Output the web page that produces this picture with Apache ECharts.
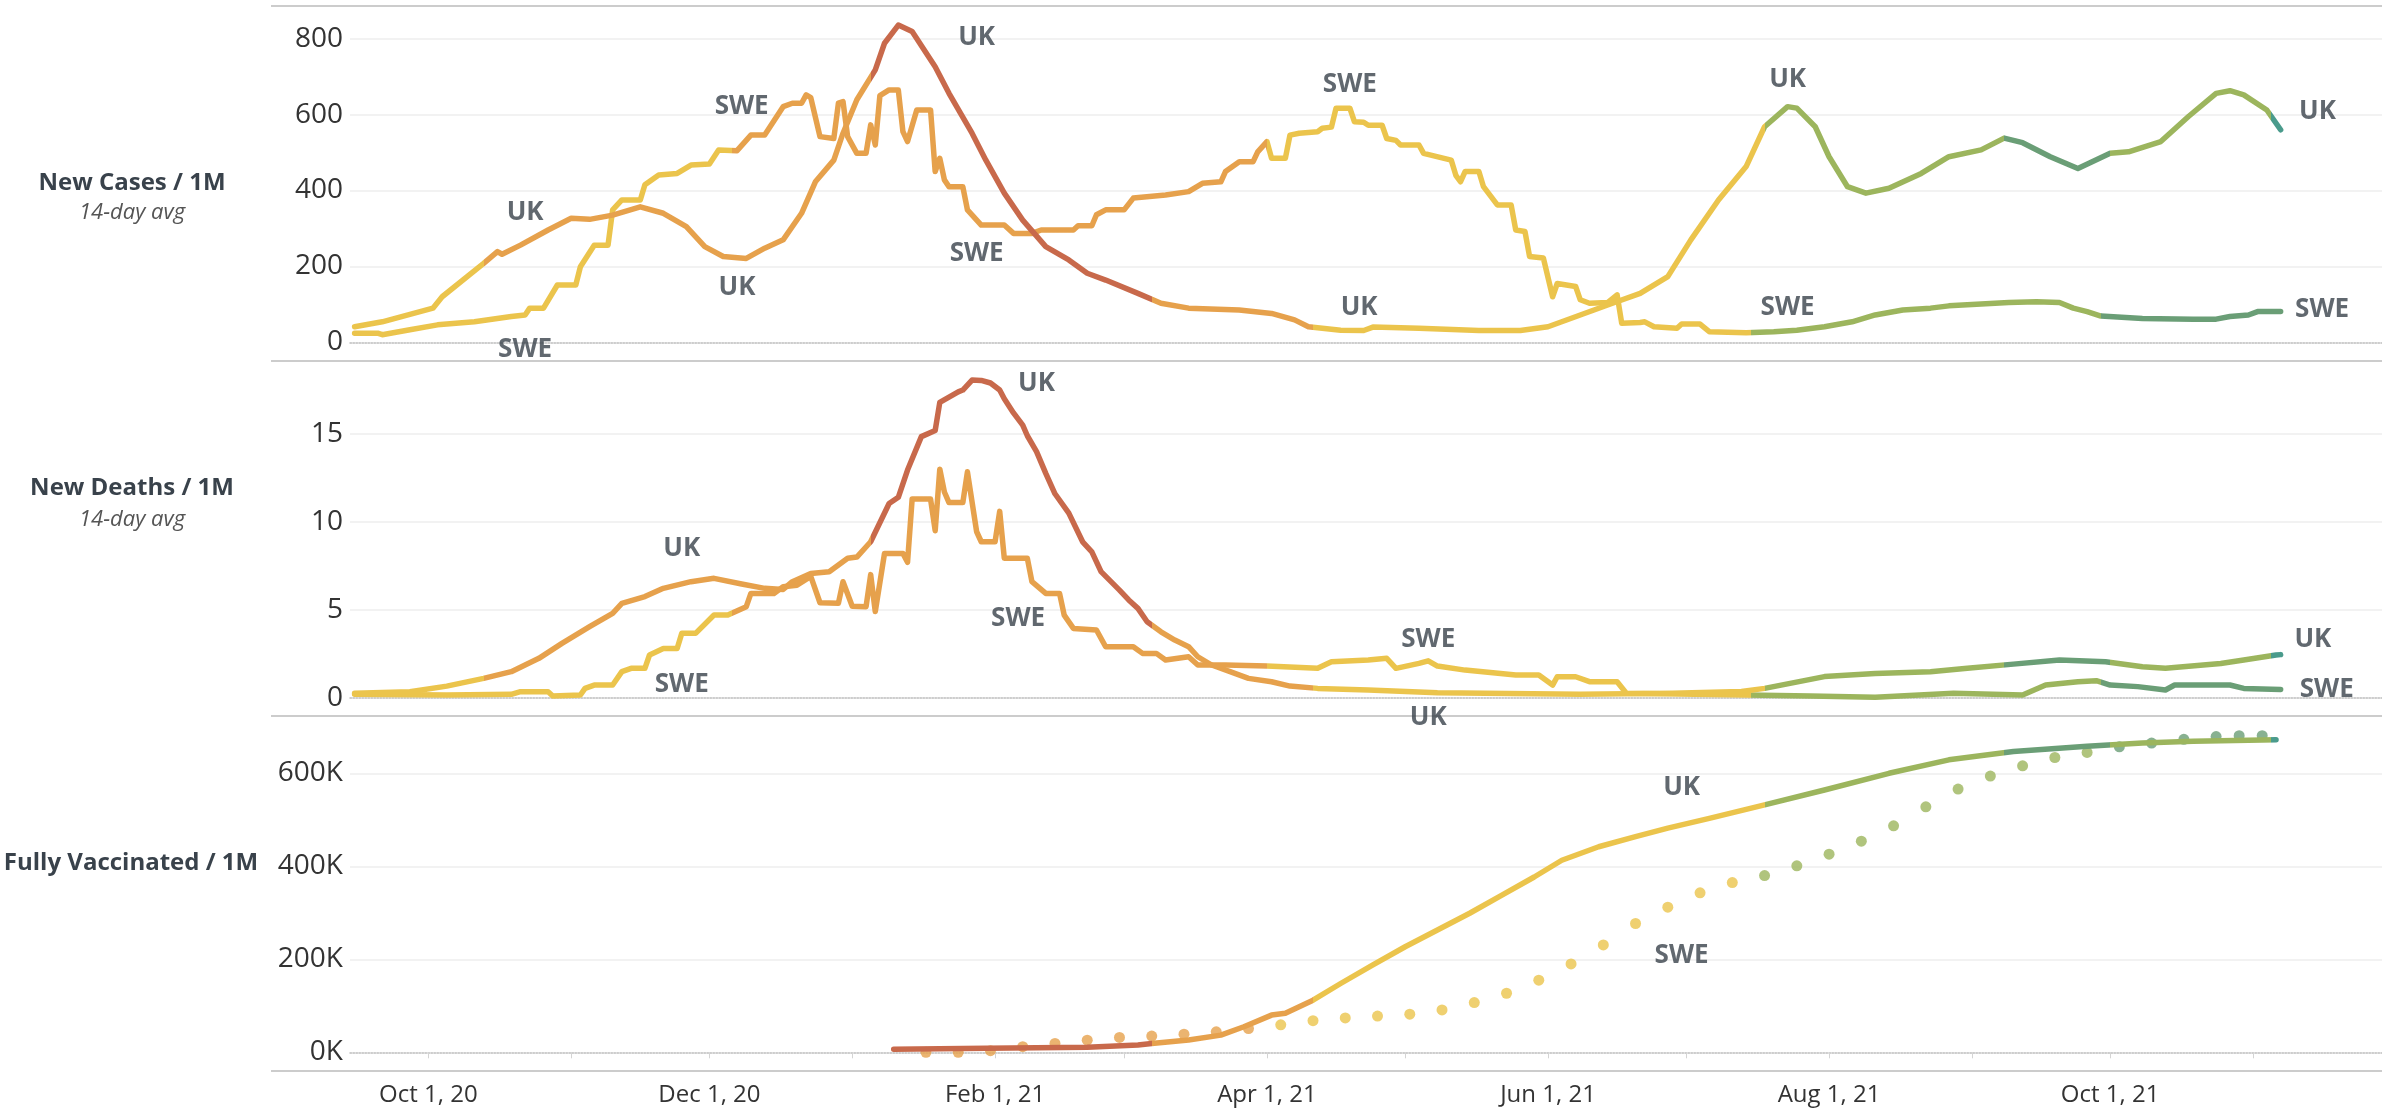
<!DOCTYPE html>
<html><head><meta charset="utf-8">
<script src="https://cdn.jsdelivr.net/npm/echarts@6/dist/echarts.min.js"></script>
<style>html,body{margin:0;padding:0;background:#fff}#c{width:2382px;height:1116px}</style>
</head><body><div id="c"></div>
<script>
// ---------- DATA ----------
const xMin = '2020-09-14';
const xMax = '2021-11-29';
const monthNames = ['Jan','Feb','Mar','Apr','May','Jun','Jul','Aug','Sep','Oct','Nov','Dec'];

const ukCases = [
['2020-09-15',41],['2020-09-21',54],['2020-10-02',90],['2020-10-04',120],['2020-10-13',208],['2020-10-16',239],['2020-10-17',232],
['2020-10-21',256],['2020-10-27',296],['2020-11-01',327],['2020-11-05',324],['2020-11-10',335],['2020-11-16',357],['2020-11-21',340],
['2020-11-26',305],['2020-11-30',252],['2020-12-04',226],['2020-12-09',221],['2020-12-13',248],['2020-12-17',270],['2020-12-21',340],
['2020-12-24',423],['2020-12-28',480],['2020-12-30',551],['2021-01-02',639],['2021-01-06',718],['2021-01-08',788],['2021-01-11',836],
['2021-01-14',819],['2021-01-19',726],['2021-01-22',656],['2021-01-27',551],['2021-01-30',480],['2021-02-03',393],['2021-02-07',322],
['2021-02-12',252],['2021-02-17',217],['2021-02-21',182],['2021-02-25',164],['2021-03-04',129],['2021-03-09',103],['2021-03-15',90],
['2021-03-26',85],['2021-04-02',76],['2021-04-07',59],['2021-04-10',41],['2021-04-17',32],['2021-04-22',31],['2021-04-24',40],
['2021-05-04',37],['2021-05-17',31],['2021-05-26',31],['2021-06-01',41],['2021-06-08',72],['2021-06-15',103],['2021-06-21',129],
['2021-06-27',173],['2021-07-02',270],['2021-07-08',375],['2021-07-14',463],['2021-07-18',568],['2021-07-23',621],['2021-07-25',617],
['2021-07-29',568],['2021-08-01',489],['2021-08-05',410],['2021-08-09',393],['2021-08-14',406],['2021-08-21',445],['2021-08-27',489],
['2021-09-03',507],['2021-09-08',538],['2021-09-12',526],['2021-09-18',489],['2021-09-24',458],['2021-10-01',498],['2021-10-05',502],
['2021-10-12',529],['2021-10-18',595],['2021-10-24',656],['2021-10-27',663],['2021-10-30',652],['2021-11-04',612],['2021-11-07',560]
];

const sweCases = [
['2020-09-15',24],['2020-09-20',24],['2020-09-21',20],['2020-09-27',33],['2020-10-03',46],['2020-10-11',54],['2020-10-19',68],
['2020-10-22',72],['2020-10-23',90],['2020-10-26',90],['2020-10-29',151],['2020-11-02',151],['2020-11-03',199],['2020-11-06',256],
['2020-11-09',256],['2020-11-10',349],['2020-11-12',375],['2020-11-16',375],['2020-11-17',415],['2020-11-20',441],['2020-11-24',445],
['2020-11-27',467],['2020-12-01',470],['2020-12-03',507],['2020-12-07',505],['2020-12-10',546],['2020-12-13',546],['2020-12-17',621],
['2020-12-19',630],['2020-12-21',630],['2020-12-22',652],['2020-12-23',645],['2020-12-25',542],['2020-12-28',537],['2020-12-29',630],
['2020-12-30',634],['2020-12-31',542],['2021-01-02',498],['2021-01-04',498],['2021-01-05',573],['2021-01-06',520],['2021-01-07',650],
['2021-01-09',665],['2021-01-11',665],['2021-01-12',555],['2021-01-13',529],['2021-01-15',612],['2021-01-18',612],['2021-01-19',450],
['2021-01-20',485],['2021-01-21',428],['2021-01-22',410],['2021-01-25',410],['2021-01-26',349],['2021-01-29',309],['2021-02-03',309],
['2021-02-05',287],['2021-02-09',287],['2021-02-11',296],['2021-02-18',296],['2021-02-19',307],['2021-02-22',307],['2021-02-23',336],
['2021-02-25',349],['2021-03-01',349],['2021-03-03',380],['2021-03-10',388],['2021-03-15',397],['2021-03-18',419],['2021-03-22',423],
['2021-03-23',450],['2021-03-26',476],['2021-03-29',476],['2021-03-30',502],['2021-04-01',529],['2021-04-02',485],['2021-04-05',485],
['2021-04-06',546],['2021-04-08',551],['2021-04-12',555],['2021-04-13',564],['2021-04-15',567],['2021-04-16',617],['2021-04-19',617],
['2021-04-20',581],['2021-04-22',580],['2021-04-23',572],['2021-04-26',572],['2021-04-27',537],['2021-04-29',532],['2021-04-30',520],
['2021-05-04',520],['2021-05-05',498],['2021-05-11',480],['2021-05-12',440],['2021-05-13',423],['2021-05-14',450],['2021-05-17',450],
['2021-05-18',410],['2021-05-21',362],['2021-05-24',362],['2021-05-25',296],['2021-05-27',292],['2021-05-28',226],['2021-05-31',222],
['2021-06-02',120],['2021-06-03',155],['2021-06-07',147],['2021-06-08',112],['2021-06-10',103],['2021-06-14',105],['2021-06-16',125],
['2021-06-17',50],['2021-06-21',52],['2021-06-22',54],['2021-06-24',41],['2021-06-29',37],['2021-06-30',48],['2021-07-04',48],
['2021-07-06',28],['2021-07-14',25],['2021-07-20',28],['2021-07-25',32],['2021-07-31',41],['2021-08-06',54],['2021-08-11',72],
['2021-08-17',85],['2021-08-23',90],['2021-08-27',96],['2021-09-03',101],['2021-09-09',105],['2021-09-15',107],['2021-09-20',105],
['2021-09-23',90],['2021-09-26',81],['2021-09-29',69],['2021-10-08',63],['2021-10-19',61],['2021-10-24',61],['2021-10-27',68],
['2021-10-31',72],['2021-11-02',81],['2021-11-07',81]
];

const ukDeaths = [
['2020-09-15',0.25],['2020-09-27',0.34],['2020-10-05',0.66],['2020-10-13',1.1],['2020-10-19',1.48],['2020-10-25',2.24],['2020-10-30',3.09],
['2020-11-05',4.04],['2020-11-10',4.8],['2020-11-12',5.37],['2020-11-17',5.75],['2020-11-21',6.22],['2020-11-27',6.6],['2020-12-02',6.79],
['2020-12-08',6.47],['2020-12-13',6.22],['2020-12-17',6.16],['2020-12-19',6.6],['2020-12-23',7.07],['2020-12-27',7.17],['2020-12-31',7.93],
['2021-01-02',8.0],['2021-01-05',8.87],['2021-01-09',11.05],['2021-01-11',11.4],['2021-01-13',12.95],['2021-01-16',14.85],['2021-01-19',15.2],
['2021-01-20',16.8],['2021-01-22',17.1],['2021-01-24',17.4],['2021-01-25',17.5],['2021-01-27',18.07],['2021-01-29',18.05],['2021-01-31',17.9],
['2021-02-02',17.5],['2021-02-03',17.0],['2021-02-05',16.2],['2021-02-07',15.5],['2021-02-08',14.9],['2021-02-10',14.0],['2021-02-12',12.76],
['2021-02-14',11.6],['2021-02-17',10.5],['2021-02-20',8.87],['2021-02-22',8.3],['2021-02-24',7.17],['2021-02-28',6.12],['2021-03-02',5.56],
['2021-03-04',5.08],['2021-03-06',4.32],['2021-03-09',3.75],['2021-03-12',3.28],['2021-03-15',2.9],['2021-03-17',2.33],['2021-03-20',1.86],
['2021-03-24',1.48],['2021-03-28',1.1],['2021-04-02',0.91],['2021-04-06',0.66],['2021-04-12',0.53],['2021-04-23',0.44],['2021-05-08',0.28],
['2021-06-08',0.2],['2021-06-28',0.25],['2021-07-13',0.35],['2021-07-18',0.53],['2021-07-31',1.2],['2021-08-11',1.38],['2021-08-23',1.48],
['2021-08-31',1.67],['2021-09-10',1.91],['2021-09-20',2.14],['2021-09-30',2.05],['2021-10-08',1.76],['2021-10-13',1.67],['2021-10-25',1.95],
['2021-10-30',2.14],['2021-11-06',2.43],['2021-11-07',2.45]
];

const sweDeaths = [
['2020-09-15',0.19],['2020-10-05',0.15],['2020-10-19',0.19],['2020-10-21',0.34],['2020-10-27',0.34],['2020-10-28',0.1],['2020-11-03',0.15],
['2020-11-04',0.53],['2020-11-06',0.72],['2020-11-10',0.72],['2020-11-12',1.48],['2020-11-14',1.67],['2020-11-17',1.67],['2020-11-18',2.43],
['2020-11-21',2.8],['2020-11-24',2.8],['2020-11-25',3.66],['2020-11-28',3.66],['2020-12-02',4.7],['2020-12-05',4.7],['2020-12-09',5.18],
['2020-12-10',5.93],['2020-12-15',5.93],['2020-12-17',6.31],['2020-12-20',6.4],['2020-12-23',6.9],['2020-12-25',5.4],['2020-12-29',5.37],
['2020-12-30',6.6],['2021-01-01',5.2],['2021-01-04',5.18],['2021-01-05',7.0],['2021-01-06',4.9],['2021-01-08',8.2],['2021-01-12',8.2],
['2021-01-13',7.7],['2021-01-14',11.3],['2021-01-18',11.3],['2021-01-19',9.5],['2021-01-20',13.0],['2021-01-21',11.7],['2021-01-22',11.1],
['2021-01-25',11.1],['2021-01-26',12.85],['2021-01-28',9.44],['2021-01-29',8.87],['2021-02-01',8.87],['2021-02-02',10.6],['2021-02-03',7.93],
['2021-02-08',7.93],['2021-02-09',6.6],['2021-02-12',5.93],['2021-02-15',5.93],['2021-02-16',4.7],['2021-02-18',3.94],['2021-02-23',3.85],
['2021-02-25',2.9],['2021-03-03',2.9],['2021-03-05',2.52],['2021-03-08',2.52],['2021-03-10',2.14],['2021-03-15',2.33],['2021-03-17',1.86],
['2021-03-23',1.86],['2021-04-01',1.8],['2021-04-12',1.67],['2021-04-15',2.05],['2021-04-23',2.14],['2021-04-27',2.24],['2021-04-29',1.67],
['2021-05-04',1.95],['2021-05-06',2.1],['2021-05-08',1.8],['2021-05-14',1.57],['2021-05-25',1.29],['2021-05-30',1.29],['2021-06-02',0.72],
['2021-06-03',1.19],['2021-06-07',1.19],['2021-06-10',0.91],['2021-06-16',0.91],['2021-06-18',0.25],['2021-07-14',0.15],['2021-07-28',0.1],
['2021-08-11',0.02],['2021-08-28',0.25],['2021-09-12',0.15],['2021-09-17',0.72],['2021-09-24',0.91],['2021-09-28',0.97],['2021-10-01',0.72],
['2021-10-07',0.63],['2021-10-13',0.44],['2021-10-15',0.72],['2021-10-27',0.72],['2021-10-30',0.53],['2021-11-07',0.47]
];

const ukVaccinated = [
['2021-01-10',6400],['2021-01-30',8500],['2021-02-21',10700],['2021-03-04',15700],['2021-03-07',19000],['2021-03-15',26500],
['2021-03-22',37000],['2021-03-27',55000],['2021-04-02',80000],['2021-04-05',84000],['2021-04-11',112000],['2021-04-17',148000],
['2021-04-24',188000],['2021-05-01',227000],['2021-05-08',263000],['2021-05-15',299000],['2021-05-22',338000],['2021-05-29',377000],
['2021-06-04',413000],['2021-06-12',442000],['2021-06-20',464000],['2021-06-27',482000],['2021-07-06',503000],['2021-07-18',532000],
['2021-07-31',564000],['2021-08-14',600000],['2021-08-27',629000],['2021-09-10',647000],['2021-09-26',658000],['2021-10-08',665000],
['2021-10-19',669000],['2021-11-06',672000]
];

const sweVaccinated = [
['2021-01-17',0],['2021-01-24',0],['2021-01-31',3500],['2021-02-07',12000],['2021-02-14',19000],['2021-02-21',26000],['2021-02-28',32000],
['2021-03-07',35000],['2021-03-14',39000],['2021-03-21',44000],['2021-03-28',51000],['2021-04-04',59000],['2021-04-11',68000],['2021-04-18',74000],
['2021-04-25',78000],['2021-05-02',82000],['2021-05-09',91000],['2021-05-16',107000],['2021-05-23',127000],['2021-05-30',155000],['2021-06-06',190000],
['2021-06-13',231000],['2021-06-20',277000],['2021-06-27',312000],['2021-07-04',343000],['2021-07-11',365000],['2021-07-18',380000],['2021-07-25',401000],
['2021-08-01',426000],['2021-08-08',454000],['2021-08-15',487000],['2021-08-22',528000],['2021-08-29',566000],['2021-09-05',594000],['2021-09-12',616000],
['2021-09-19',634000],['2021-09-26',645000],['2021-10-03',657000],['2021-10-10',665000],['2021-10-17',673000],['2021-10-24',679000],['2021-10-29',681000],
['2021-11-03',681000]
];

// colour phases (per country, by date)
const ukPhases = [['2020-09-01','yellow'],['2020-10-13','orange'],['2021-01-05','red'],['2021-03-07','orange'],['2021-04-11','yellow'],
  ['2021-07-18','green'],['2021-09-08','tealGreen'],['2021-10-01','green'],['2021-11-05','teal']];
const swePhases = [['2020-09-01','yellow'],['2020-12-06','orange'],['2021-04-01','yellow'],['2021-07-15','green'],['2021-09-29','tealGreen']];

// text annotations [date, value, text]
const casesLabels = [['2020-10-22',343,'UK'],['2020-12-08',621,'SWE'],['2020-12-07',143,'UK'],['2020-10-22',-18,'SWE'],
  ['2021-01-28',803,'UK'],['2021-01-28',235,'SWE'],['2021-04-19',680,'SWE'],['2021-04-21',92,'UK'],
  ['2021-07-23',693,'UK'],['2021-07-23',92,'SWE'],['2021-11-15',608,'UK'],['2021-11-16',85,'SWE']];
const deathsLabels = [['2020-11-25',8.5,'UK'],['2020-11-25',0.72,'SWE'],['2021-02-10',17.88,'UK'],['2021-02-06',4.5,'SWE'],
  ['2021-05-06',3.32,'SWE'],['2021-05-06',-1.16,'UK'],['2021-11-14',3.32,'UK'],['2021-11-17',0.44,'SWE']];
const vaccLabels = [['2021-06-30',570000,'UK'],['2021-06-30',208000,'SWE']];

const rowTitles = ['New Cases / 1M','New Deaths / 1M','Fully Vaccinated / 1M'];
const rowSubtitle = '14-day avg';

// ---------- CHART ----------
const COLORS = {yellow:'#EBC44C', orange:'#E6A14C', red:'#C8694B', green:'#9CB55D', tealGreen:'#6A9E76', teal:'#4A9B8C'};
const FONT = '"Open Sans", "Noto Sans", sans-serif';
const TXT = '#39424B';
const DAY = 86400000;
function t(s){const p=s.split('-').map(Number);return new Date(p[0],p[1]-1,p[2]).getTime();}
function toXY(arr){return arr.map(d=>[t(d[0]),d[1]]);}
function pieces(ph){return ph.map((p,i)=>{const o={gte:t(p[0]),color:COLORS[p[1]]};if(i<ph.length-1)o.lt=t(ph[i+1][0]);return o;});}
function labelData(arr){return arr.map(d=>({value:[t(d[0]),d[1]],name:d[2]}));}

const grids = [
  {left:350,right:0,top:38.7,height:303.6},
  {left:350,right:0,top:434,height:263.7},
  {left:350,right:0,top:773.3,height:279}
];
const yCommon = {
  axisLine:{show:false},axisTick:{show:false},
  axisLabel:{fontFamily:FONT,fontSize:28,color:'#333',margin:7},
  splitLine:{show:true,showMinLine:false,lineStyle:{color:'#eeeeee',width:1.5}}
};
const xBase = (i)=>({type:'time',gridIndex:i,min:t(xMin),max:t(xMax),
  axisLine:{show:true,onZero:false,lineStyle:{color:'#bdbdbd',type:'dotted',width:1.5}},
  axisTick:{show:false},axisLabel:{show:false},splitLine:{show:false}});

const lineBase = {type:'line',showSymbol:false,clip:false,lineStyle:{width:5.5,cap:'round',join:'round'},z:3};
const labelSeries = (i,arr)=>({type:'scatter',xAxisIndex:i,yAxisIndex:i,data:labelData(arr),symbol:'circle',symbolSize:0,
  itemStyle:{color:'rgba(0,0,0,0)'},silent:true,clip:false,z:10,
  label:{show:true,position:'inside',formatter:'{b}',fontFamily:FONT,fontWeight:'bold',fontSize:26,color:TXT}});

const graphic = [];
[6,361,716,1071].forEach(y=>graphic.push({type:'line',shape:{x1:271,y1:y,x2:2382,y2:y},style:{stroke:'#cccccc',lineWidth:2},silent:true}));
graphic.push({type:'text',x:132,y:183,style:{text:rowTitles[0],font:'bold 24px '+FONT,fill:TXT,align:'center',verticalAlign:'middle'}});
graphic.push({type:'text',x:132,y:213,style:{text:rowSubtitle,font:'italic 22px '+FONT,fill:'#555',align:'center',verticalAlign:'middle'}});
graphic.push({type:'text',x:132,y:488,style:{text:rowTitles[1],font:'bold 24px '+FONT,fill:TXT,align:'center',verticalAlign:'middle'}});
graphic.push({type:'text',x:132,y:520,style:{text:rowSubtitle,font:'italic 22px '+FONT,fill:'#555',align:'center',verticalAlign:'middle'}});
graphic.push({type:'text',x:131,y:863,style:{text:rowTitles[2],font:'bold 24px '+FONT,fill:TXT,align:'center',verticalAlign:'middle'}});

const option = {
  animation:false,
  backgroundColor:'#fff',
  grid:grids,
  xAxis:[xBase(0),xBase(1),xBase(2),
    {type:'time',gridIndex:2,position:'bottom',offset:18.7,min:t(xMin),max:t(xMax),
     splitNumber:15,minInterval:28*DAY,maxInterval:31*DAY,
     axisLine:{show:false},axisTick:{show:true,length:6,lineStyle:{color:'#d4d4d4',width:1}},
     splitLine:{show:false},
     axisLabel:{fontFamily:FONT,fontSize:24,color:'#333',margin:12,hideOverlap:false,
       formatter:function(v){const d=new Date(v);if(d.getDate()!==1||d.getMonth()%2===0)return '';
         return monthNames[d.getMonth()]+' 1, '+String(d.getFullYear()).slice(2);}}}
  ],
  yAxis:[
    Object.assign({type:'value',gridIndex:0,min:0,max:800,interval:200},yCommon),
    Object.assign({type:'value',gridIndex:1,min:0,max:15,interval:5},yCommon),
    Object.assign({type:'value',gridIndex:2,min:0,max:600000,interval:200000},yCommon,
      {axisLabel:Object.assign({},yCommon.axisLabel,{formatter:v=>(v/1000)+'K'})})
  ],
  visualMap:[
    {type:'piecewise',show:false,dimension:0,seriesIndex:[0,2,4],pieces:pieces(ukPhases)},
    {type:'piecewise',show:false,dimension:0,seriesIndex:[1,3,5],pieces:pieces(swePhases)}
  ],
  graphic:graphic,
  series:[
    Object.assign({},lineBase,{name:'UK cases',xAxisIndex:0,yAxisIndex:0,data:toXY(ukCases),z:4}),
    Object.assign({},lineBase,{name:'SWE cases',xAxisIndex:0,yAxisIndex:0,data:toXY(sweCases)}),
    Object.assign({},lineBase,{name:'UK deaths',xAxisIndex:1,yAxisIndex:1,data:toXY(ukDeaths),z:4}),
    Object.assign({},lineBase,{name:'SWE deaths',xAxisIndex:1,yAxisIndex:1,data:toXY(sweDeaths)}),
    Object.assign({},lineBase,{name:'UK vaccinated',xAxisIndex:2,yAxisIndex:2,data:toXY(ukVaccinated),z:4}),
    {type:'scatter',name:'SWE vaccinated',xAxisIndex:2,yAxisIndex:2,data:toXY(sweVaccinated),symbolSize:11,clip:false,z:3},
    labelSeries(0,casesLabels),labelSeries(1,deathsLabels),labelSeries(2,vaccLabels)
  ]
};
const chart = echarts.init(document.getElementById('c'),null,{renderer:'canvas'});
chart.setOption(option);
</script>
</body></html>
